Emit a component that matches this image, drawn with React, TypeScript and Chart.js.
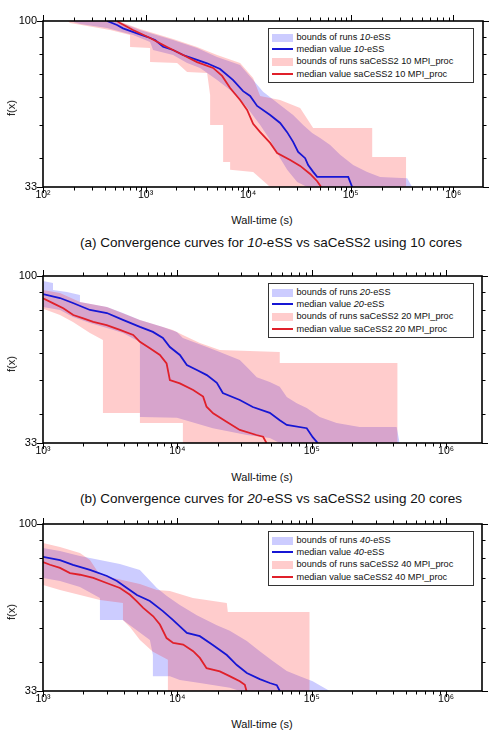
import React, { useEffect, useRef } from "react";
import { Chart, registerables } from "chart.js";
Chart.register(...registerables);

// ---------------- data: panel (a) ----------------
const A_XTICKS = [1e2, 1e3, 1e4, 1e5, 1e6];
const A_BLUE_MED_X = [421, 527, 603, 826, 1035, 1239, 1482, 1854, 2322, 3178, 3981, 5330, 7145, 8935, 10460, 12240, 16390, 20510, 23990, 27460, 30740, 35970, 38480, 43070, 47100, 94600, 103400];
const A_BLUE_MED_Y = [100, 97.4, 95.2, 92.1, 90.0, 88.1, 84.2, 82.4, 79.7, 77.1, 75.4, 72.6, 67.4, 62.6, 60.6, 56.7, 53.4, 50.6, 47.6, 44.6, 41.7, 40.0, 38.2, 36.5, 35.3, 35.3, 33];
const A_RED_MED_X = [527, 564, 755, 1106, 1621, 2322, 3178, 4555, 5577, 6673, 8356, 9776, 11190, 13100, 16390, 19180, 25700, 32160, 40260, 47120, 51540];
const A_RED_MED_Y = [100, 98.7, 94.2, 89.3, 84.1, 79.7, 76.0, 73.1, 69.3, 63.9, 59.0, 55.2, 50.3, 47.6, 44.3, 41.4, 39.5, 38.0, 36.0, 34.3, 33];
const A_BLUE_UP_X = [183, 527, 884, 1855, 3180, 4983, 8356, 11190, 14010, 20520, 27480, 34410, 42110, 50400, 63100, 79000, 105800, 144900, 194000, 355800, 398000];
const A_BLUE_UP_Y = [100, 100, 94.2, 88.1, 83.5, 78.6, 74.5, 67.4, 62.3, 57.1, 53.4, 49.9, 47.3, 45.8, 43.7, 40.9, 38.2, 36.5, 35.3, 35.0, 33];
const A_BLUE_LO_X = [183, 230, 421, 755, 1106, 1184, 1855, 2540, 3402, 4983, 6673, 9348, 13100, 16390, 20520, 24010, 30060, 37640, 398000];
const A_BLUE_LO_Y = [100, 98.0, 95.4, 91.1, 86.9, 82.4, 79.7, 75.5, 73.1, 67.4, 63.1, 57.1, 49.9, 45.2, 40.0, 37.0, 34.1, 33, 33];
const A_RED_UP_X = [175, 539, 884, 1855, 3180, 4983, 8356, 11190, 13100, 20520, 32160, 43060, 162100, 162100, 347900, 347900];
const A_RED_UP_Y = [100, 100, 94.8, 88.7, 84.1, 79.7, 75.5, 68.3, 60.6, 59.0, 55.9, 48.9, 48.9, 40.3, 40.3, 33];
const A_RED_LO_X = [175, 183, 451, 706, 706, 1106, 1106, 2029, 2540, 3981, 4259, 4259, 5704, 5704, 6673, 6673, 11190, 16390, 347900];
const A_RED_LO_Y = [100, 98.7, 94.2, 91.1, 84.1, 83.5, 76.0, 75.5, 71.1, 70.7, 61.0, 49.9, 49.9, 39.0, 39.0, 37.0, 36.5, 33, 33];

// ---------------- data: panel (b) ----------------
const B_XTICKS = [1e3, 1e4, 1e5, 1e6];
const B_BLUE_MED_X = [1000, 1338, 1671, 2236, 2991, 3934, 5263, 6575, 7802, 8795, 10437, 11766, 13964, 16570, 19665, 21790, 29150, 36420, 48720, 57820, 65190, 91800, 101700, 110800];
const B_BLUE_MED_Y = [88.7, 86.4, 83.6, 79.8, 78.2, 74.7, 71.3, 69.0, 66.3, 62.4, 59.2, 55.4, 53.6, 51.8, 49.2, 46.0, 43.9, 41.9, 40.3, 38.4, 37.2, 36.4, 34.3, 33];
const B_RED_MED_X = [1000, 1193, 1415, 1680, 1994, 2366, 2975, 3737, 4693, 5263, 6244, 7413, 8312, 8795, 10437, 13110, 15550, 16490, 18460, 23220, 29150, 38800, 43450, 46050];
const B_RED_MED_Y = [86.2, 83.4, 80.7, 77.2, 75.5, 73.8, 72.2, 69.9, 67.6, 64.6, 61.9, 59.2, 56.0, 50.1, 49.0, 46.9, 44.9, 42.0, 40.2, 38.0, 36.0, 34.8, 34.4, 33];
const B_BLUE_UP_X = [1000, 1187, 1187, 1508, 1884, 1884, 2991, 3934, 5263, 7802, 9915, 10990, 16570, 20700, 29150, 34590, 39000, 48720, 57820, 65190, 77360, 91800, 114700, 153400, 227500, 428500, 451000];
const B_BLUE_UP_Y = [96.7, 95.5, 91.1, 89.9, 88.1, 84.1, 81.4, 78.2, 74.7, 71.3, 69.0, 66.3, 62.4, 60.4, 57.3, 53.6, 51.1, 49.5, 47.9, 44.8, 43.0, 41.6, 39.2, 37.7, 36.7, 36.7, 33];
const B_BLUE_LO_X = [1000, 1338, 1671, 2236, 2991, 3934, 5263, 5263, 9915, 18360, 32870, 48720, 57820, 451000];
const B_BLUE_LO_Y = [81.4, 79.8, 76.2, 73.2, 70.8, 68.5, 64.5, 39.2, 39.0, 36.4, 34.8, 34.1, 33, 33];
const B_RED_UP_X = [1000, 1338, 1884, 2991, 5263, 9259, 10990, 14700, 20700, 57820, 57820, 436000, 436000];
const B_RED_UP_Y = [91.1, 89.3, 84.1, 81.4, 74.7, 69.9, 67.6, 64.1, 61.2, 60.4, 56.1, 56.1, 33];
const B_RED_LO_X = [1000, 1338, 1671, 2236, 2793, 2793, 5263, 5263, 10990, 10990, 436000];
const B_RED_LO_Y = [80.4, 77.2, 73.7, 68.5, 65.4, 40.3, 40.3, 37.7, 37.7, 33, 33];

// ---------------- data: panel (c) ----------------
const C_XTICKS = [1e3, 1e4, 1e5, 1e6];
const C_BLUE_MED_X = [1000, 1338, 1671, 2236, 2991, 3550, 4212, 4998, 6244, 7802, 9259, 11766, 14700, 18360, 23330, 27700, 32870, 41060, 48720, 54940, 57820];
const C_BLUE_MED_Y = [80.4, 78.7, 76.2, 73.7, 70.8, 68.5, 65.4, 62.4, 60.0, 56.1, 52.9, 48.5, 47.5, 44.8, 41.9, 39.2, 37.2, 35.7, 34.8, 34.3, 33];
const C_RED_MED_X = [1000, 1127, 1338, 1588, 1884, 2366, 2975, 3737, 4436, 4974, 5568, 6609, 7413, 8312, 9307, 11045, 13110, 14700, 16490, 20700, 23220, 25990, 29150, 31770, 32700];
const C_RED_MED_Y = [77.7, 76.3, 74.7, 72.2, 71.4, 69.9, 67.6, 65.4, 62.5, 59.9, 57.3, 54.2, 51.3, 46.9, 45.4, 44.9, 43.0, 41.1, 38.4, 37.6, 36.8, 36.0, 35.2, 34.4, 33];
const C_BLUE_UP_X = [1000, 1338, 1884, 2653, 3737, 5263, 7040, 8355, 10437, 13960, 19665, 24560, 32870, 41060, 51290, 65190, 81450, 101700, 136100];
const C_BLUE_UP_Y = [85.3, 83.6, 80.9, 78.7, 76.7, 73.7, 65.4, 62.0, 58.4, 54.6, 51.1, 49.2, 46.0, 43.0, 40.3, 37.7, 36.4, 35.2, 33];
const C_BLUE_LO_X = [1000, 1338, 1884, 2653, 2653, 3934, 4436, 6244, 6575, 6575, 8795, 10437, 14700, 24560, 29150, 136100];
const C_BLUE_LO_Y = [69.9, 68.5, 65.8, 61.2, 52.9, 52.9, 51.1, 46.3, 41.9, 36.4, 36.4, 35.5, 34.8, 33.7, 33, 33];
const C_RED_UP_X = [1000, 1338, 1884, 2236, 2653, 5263, 7040, 8795, 13040, 23330, 23740, 96620, 96620];
const C_RED_UP_Y = [88.1, 85.8, 82.5, 78.7, 71.3, 67.1, 64.5, 64.1, 61.2, 59.2, 55.8, 55.8, 33];
const C_RED_LO_X = [1000, 1338, 1884, 2653, 3934, 3934, 4436, 5263, 6575, 8500, 8500, 96620];
const C_RED_LO_Y = [66.7, 64.5, 62.4, 60.4, 59.2, 52.9, 50.5, 46.3, 42.8, 40.6, 33, 33];

// ---------------- shared axis values ----------------
const Y_LABEL_TICKS = [33, 100];
const Y_MINOR_TICKS = [40, 50, 60, 70, 80, 90];
const Y_MIN = 33;
const Y_MAX = 100;

// ---------------- styles ----------------
const FONT = '"Liberation Sans", Arial, Helvetica, sans-serif';
const BLUE_FILL = "rgba(0,0,255,0.2)";
const RED_FILL = "rgba(255,0,0,0.2)";
const BLUE_LINE = "#1616d4";
const RED_LINE = "#e0202a";
const SUPS = ["⁰", "¹", "²", "³", "⁴", "⁵", "⁶", "⁷", "⁸", "⁹"];

type Series = [number[], number[]];
type Panel = {
  letter: string;
  n: number;
  plotTop: number;
  plotBottom: number;
  right: number;
  xMin: number;
  xMax: number;
  xTicks: number[];
  blueMed: Series;
  redMed: Series;
  blueUp: Series;
  blueLo: Series;
  redUp: Series;
  redLo: Series;
  xTitleY: number;
  captionY: number | null;
};

const PANELS: Panel[] = [
  {
    letter: "a", n: 10, plotTop: 21, plotBottom: 187, right: 483, xMin: 100, xMax: 1.95e6, xTicks: A_XTICKS,
    blueMed: [A_BLUE_MED_X, A_BLUE_MED_Y], redMed: [A_RED_MED_X, A_RED_MED_Y],
    blueUp: [A_BLUE_UP_X, A_BLUE_UP_Y], blueLo: [A_BLUE_LO_X, A_BLUE_LO_Y],
    redUp: [A_RED_UP_X, A_RED_UP_Y], redLo: [A_RED_LO_X, A_RED_LO_Y],
    xTitleY: 220, captionY: 243,
  },
  {
    letter: "b", n: 20, plotTop: 276, plotBottom: 443, right: 482, xMin: 1000, xMax: 1.85e6, xTicks: B_XTICKS,
    blueMed: [B_BLUE_MED_X, B_BLUE_MED_Y], redMed: [B_RED_MED_X, B_RED_MED_Y],
    blueUp: [B_BLUE_UP_X, B_BLUE_UP_Y], blueLo: [B_BLUE_LO_X, B_BLUE_LO_Y],
    redUp: [B_RED_UP_X, B_RED_UP_Y], redLo: [B_RED_LO_X, B_RED_LO_Y],
    xTitleY: 477, captionY: 499,
  },
  {
    letter: "c", n: 40, plotTop: 524, plotBottom: 691, right: 482, xMin: 1000, xMax: 1.85e6, xTicks: C_XTICKS,
    blueMed: [C_BLUE_MED_X, C_BLUE_MED_Y], redMed: [C_RED_MED_X, C_RED_MED_Y],
    blueUp: [C_BLUE_UP_X, C_BLUE_UP_Y], blueLo: [C_BLUE_LO_X, C_BLUE_LO_Y],
    redUp: [C_RED_UP_X, C_RED_UP_Y], redLo: [C_RED_LO_X, C_RED_LO_Y],
    xTitleY: 724, captionY: null,
  },
];

const zip = (s: Series) => s[0].map((x, i) => ({ x, y: s[1][i] }));

const TOP_PAD = 15;
const XAXIS_H = 22;

const frameTicksPlugin = {
  id: "frameTicks",
  afterDraw(chart: any) {
    const { ctx, chartArea: a } = chart;
    const xs = chart.scales.x;
    const ys = chart.scales.y;
    ctx.save();
    ctx.strokeStyle = "#000";
    ctx.lineWidth = 1;
    ctx.beginPath();
    const e0 = Math.floor(Math.log10(xs.min));
    const e1 = Math.ceil(Math.log10(xs.max));
    for (let e = e0; e <= e1; e++) {
      for (let m = 1; m <= 9; m++) {
        const v = m * Math.pow(10, e);
        if (v < xs.min * 0.999 || v > xs.max) continue;
        const p = Math.round(xs.getPixelForValue(v)) + 0.5;
        const len = m === 1 ? 6 : 3.5;
        ctx.moveTo(p, a.bottom);
        ctx.lineTo(p, a.bottom + len);
        ctx.moveTo(p, a.top);
        ctx.lineTo(p, a.top - len);
      }
    }
    const yt = [...Y_LABEL_TICKS.map((v) => [v, 6]), ...Y_MINOR_TICKS.map((v) => [v, 3.5])];
    for (const [v, len] of yt) {
      const p = Math.round(ys.getPixelForValue(v)) + 0.5;
      ctx.moveTo(a.left, p);
      ctx.lineTo(a.left - len, p);
      ctx.moveTo(a.right, p);
      ctx.lineTo(a.right + len, p);
    }
    ctx.stroke();
    ctx.lineWidth = 1.6;
    ctx.strokeRect(a.left, a.top, a.right - a.left, a.bottom - a.top);
    ctx.restore();
  },
};

function PanelChart({ p }: { p: Panel }) {
  const ref = useRef<HTMLCanvasElement | null>(null);
  const height = TOP_PAD + (p.plotBottom - p.plotTop) + XAXIS_H;
  useEffect(() => {
    if (!ref.current) return;
    const line = { pointRadius: 0, borderWidth: 0, borderColor: "rgba(0,0,0,0)" };
    const chart = new Chart(ref.current, {
      type: "line",
      data: {
        datasets: [
          { data: zip(p.redMed), borderColor: RED_LINE, borderWidth: 1.8, pointRadius: 0, fill: false, order: 0 },
          { data: zip(p.blueMed), borderColor: BLUE_LINE, borderWidth: 1.8, pointRadius: 0, fill: false, order: 1 },
          { data: zip(p.redUp), ...line, backgroundColor: RED_FILL, fill: 3, order: 2 },
          { data: zip(p.redLo), ...line, fill: false, order: 3 },
          { data: zip(p.blueUp), ...line, backgroundColor: BLUE_FILL, fill: 5, order: 4 },
          { data: zip(p.blueLo), ...line, fill: false, order: 5 },
        ] as any,
      },
      options: {
        animation: false,
        responsive: false,
        devicePixelRatio: 1,
        events: [],
        layout: { padding: { top: TOP_PAD, right: 500 - p.right, left: 0, bottom: 0 } },
        elements: { line: { tension: 0 } },
        plugins: { legend: { display: false }, tooltip: { enabled: false } },
        scales: {
          x: {
            type: "logarithmic",
            min: p.xMin,
            max: p.xMax,
            grid: { display: false, drawTicks: false },
            border: { display: false },
            ticks: {
              autoSkip: false,
              maxRotation: 0,
              padding: 2,
              color: "#000",
              font: { family: FONT, size: 10.5 },
              callback: (v: any) => "10" + SUPS[Math.round(Math.log10(Number(v)))],
            },
            afterBuildTicks: (s: any) => {
              s.ticks = p.xTicks.map((v) => ({ value: v }));
            },
            afterFit: (s: any) => {
              s.height = XAXIS_H;
            },
          },
          y: {
            type: "logarithmic",
            min: Y_MIN,
            max: Y_MAX,
            grid: { display: false, drawTicks: false },
            border: { display: false },
            ticks: {
              autoSkip: false,
              padding: 6,
              color: "#000",
              font: { family: FONT, size: 11 },
              callback: (v: any) => String(v),
            },
            afterBuildTicks: (s: any) => {
              s.ticks = Y_LABEL_TICKS.map((v) => ({ value: v }));
            },
            afterFit: (s: any) => {
              s.width = 43;
            },
          },
        },
      } as any,
      plugins: [frameTicksPlugin],
    });
    return () => chart.destroy();
  }, [p]);
  return (
    <canvas
      ref={ref}
      width={500}
      height={height}
      style={{ position: "absolute", left: 0, top: p.plotTop - TOP_PAD, width: 500, height }}
    />
  );
}

function Legend({ p }: { p: Panel }) {
  const rows = [
    { kind: "patch", color: BLUE_FILL, label: <>bounds of runs <i>{p.n}</i>-eSS</> },
    { kind: "line", color: BLUE_LINE, label: <>median value <i>{p.n}</i>-eSS</> },
    { kind: "patch", color: RED_FILL, label: <>bounds of runs saCeSS2 {p.n} MPI_proc</> },
    { kind: "line", color: RED_LINE, label: <>median value saCeSS2 {p.n} MPI_proc</> },
  ];
  const centers = [10, 21.5, 34, 46.5];
  const border = 1.5;
  return (
    <div
      style={{
        position: "absolute",
        left: 267.5,
        top: p.plotTop + 7,
        width: 206,
        height: 55,
        boxSizing: "border-box",
        border: `${border}px solid #333`,
        background: "#fff",
      }}
    >
      {rows.map((r, i) => {
        const c = centers[i] - border;
        const sh = r.kind === "patch" ? 8 : 2;
        return (
          <React.Fragment key={i}>
            <div style={{ position: "absolute", left: 3.5, top: c - sh / 2, width: 21, height: sh, background: r.color }} />
            <div
              style={{
                position: "absolute",
                left: 28,
                top: c - 5.5,
                height: 11,
                lineHeight: "11px",
                fontSize: 9.2,
                whiteSpace: "nowrap",
                color: "#111",
              }}
            >
              {r.label}
            </div>
          </React.Fragment>
        );
      })}
    </div>
  );
}

function Texts({ p }: { p: Panel }) {
  const cy = (p.plotTop + p.plotBottom) / 2 + 4;
  return (
    <>
      <div
        style={{
          position: "absolute",
          left: 11,
          top: cy,
          transform: "translate(-50%, -50%) rotate(-90deg)",
          fontSize: 11,
          whiteSpace: "nowrap",
          color: "#111",
        }}
      >
        f(x)
      </div>
      <div
        style={{
          position: "absolute",
          left: 262 - 100,
          width: 200,
          top: p.xTitleY - 7,
          height: 14,
          lineHeight: "14px",
          textAlign: "center",
          fontSize: 11,
          color: "#111",
        }}
      >
        Wall-time (s)
      </div>
      {p.captionY !== null && (
        <div
          style={{
            position: "absolute",
            left: 271 - 240,
            width: 480,
            top: p.captionY - 9,
            height: 18,
            lineHeight: "18px",
            textAlign: "center",
            fontSize: 13.5,
            whiteSpace: "nowrap",
            color: "#111",
          }}
        >
          ({p.letter}) Convergence curves for <i>{p.n}</i>-eSS vs saCeSS2 using {p.n} cores
        </div>
      )}
    </>
  );
}

export default function App() {
  return (
    <div
      style={{
        position: "absolute",
        left: 0,
        top: 0,
        width: 500,
        height: 739,
        background: "#fff",
        fontFamily: FONT,
        overflow: "hidden",
      }}
    >
      {PANELS.map((p) => (
        <React.Fragment key={p.letter}>
          <PanelChart p={p} />
          <Legend p={p} />
          <Texts p={p} />
        </React.Fragment>
      ))}
    </div>
  );
}
